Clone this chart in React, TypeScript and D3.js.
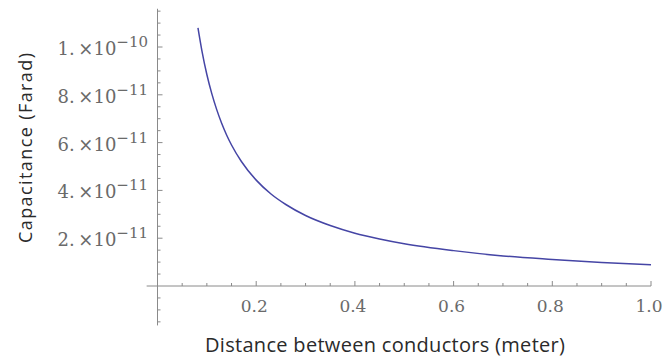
import { useRef, useEffect } from "react";
import * as d3 from "d3";

// distance (m) and capacitance (F)
const distance = [0.082, 0.09, 0.1, 0.11, 0.12, 0.13, 0.14, 0.15, 0.17, 0.2, 0.23, 0.26, 0.3, 0.35, 0.4, 0.45, 0.5, 0.6, 0.7, 0.8, 0.9, 1.0];
const capacitance = [10.8e-11, 9.84e-11, 8.85e-11, 8.05e-11, 7.38e-11, 6.81e-11, 6.32e-11, 5.9e-11, 5.21e-11, 4.43e-11, 3.85e-11, 3.41e-11, 2.95e-11, 2.53e-11, 2.21e-11, 1.97e-11, 1.77e-11, 1.48e-11, 1.26e-11, 1.11e-11, 0.98e-11, 0.885e-11];

const xTicks = [0.2, 0.4, 0.6, 0.8, 1.0];
const xTickLabels = ["0.2", "0.4", "0.6", "0.8", "1.0"];
const yTicks = [2e-11, 4e-11, 6e-11, 8e-11, 1e-10];
const yTickMantissa = ["2.", "4.", "6.", "8.", "1."];
const yTickExponent = ["\u221211", "\u221211", "\u221211", "\u221211", "\u221210"];

const W = 665, H = 360;

export default function App() {
  const svgRef = useRef<SVGSVGElement>(null);

  useEffect(() => {
    if (!svgRef.current) return;
    const svg = d3.select(svgRef.current);
    svg.selectAll("*").remove();

    const x = d3.scaleLinear().domain([0, 1]).range([157.5, 651]);
    const y = d3.scaleLinear().domain([0, 1e-10]).range([286, 47]);
    const axisColor = "#8a8a8a";
    const tickFont = "'DejaVu Serif', 'Liberation Serif', serif";
    const labelFont = "'Open Sans', 'Noto Sans', sans-serif";

    // axes lines
    svg.append("line").attr("x1", x(-0.022)).attr("x2", x(1.0)).attr("y1", y(0)).attr("y2", y(0))
      .attr("stroke", axisColor).attr("stroke-width", 1);
    svg.append("line").attr("x1", x(0)).attr("x2", x(0)).attr("y1", y(1.16e-10)).attr("y2", y(-1.65e-11))
      .attr("stroke", axisColor).attr("stroke-width", 1);

    // x ticks
    const xMinor = d3.range(1, 21).map(i => i * 0.05).filter(v => !xTicks.some(t => Math.abs(t - v) < 1e-9));
    svg.append("g").selectAll("line").data(xMinor).enter().append("line")
      .attr("x1", d => x(d)).attr("x2", d => x(d)).attr("y1", y(0)).attr("y2", y(0) - 3)
      .attr("stroke", axisColor);
    svg.append("g").selectAll("line").data(xTicks).enter().append("line")
      .attr("x1", d => x(d)).attr("x2", d => x(d)).attr("y1", y(0)).attr("y2", y(0) - 5)
      .attr("stroke", axisColor);
    svg.append("g").selectAll("text").data(xTicks).enter().append("text")
      .attr("x", d => x(d) - 2).attr("y", 312)
      .attr("text-anchor", "middle").attr("font-family", tickFont).attr("font-size", 17)
      .attr("fill", "#6a6a6a").text((d, i) => xTickLabels[i]);

    // y ticks
    const yMinor = d3.range(-3, 24).map(i => i * 0.5e-11)
      .filter(v => Math.abs(v) > 1e-15 && !yTicks.some(t => Math.abs(t - v) < 1e-15));
    svg.append("g").selectAll("line").data(yMinor).enter().append("line")
      .attr("x1", x(0)).attr("x2", x(0) + 3).attr("y1", d => y(d)).attr("y2", d => y(d))
      .attr("stroke", axisColor);
    svg.append("g").selectAll("line").data(yTicks).enter().append("line")
      .attr("x1", x(0)).attr("x2", x(0) + 5).attr("y1", d => y(d)).attr("y2", d => y(d))
      .attr("stroke", axisColor);
    const yl = svg.append("g").selectAll("text").data(yTicks).enter().append("text")
      .attr("x", 148).attr("y", d => y(d) + 8)
      .attr("text-anchor", "end").attr("font-family", tickFont).attr("font-size", 18).attr("fill", "#6a6a6a");
    yl.append("tspan").text((d, i) => yTickMantissa[i] + "\u2009\u00d710");
    yl.append("tspan").attr("dy", -8).attr("font-size", 15).text((d, i) => yTickExponent[i]);

    // curve
    const pts = distance.map((d, i) => [d, capacitance[i]] as [number, number]);
    const line = d3.line<[number, number]>().x(d => x(d[0])).y(d => y(d[1])).curve(d3.curveMonotoneX);
    svg.append("path").datum(pts).attr("d", line).attr("fill", "none")
      .attr("stroke", "#4545a5").attr("stroke-width", 1.5);

    // axis titles
    svg.append("text").attr("x", 385).attr("y", 352).attr("text-anchor", "middle")
      .attr("font-family", labelFont).attr("font-size", 20).attr("fill", "#2a2a2a")
      .attr("textLength", 360).attr("lengthAdjust", "spacing")
      .text("Distance between conductors (meter)");
    svg.append("text").attr("transform", "translate(32,148) rotate(-90)").attr("text-anchor", "middle")
      .attr("font-family", labelFont).attr("font-size", 18).attr("fill", "#2a2a2a")
      .attr("textLength", 190).attr("lengthAdjust", "spacing")
      .text("Capacitance (Farad)");
  }, []);

  return (
    <div style={{ position: "fixed", left: 0, top: 0, width: W, height: H, background: "#fff" }}>
      <svg ref={svgRef} width={W} height={H} />
    </div>
  );
}
